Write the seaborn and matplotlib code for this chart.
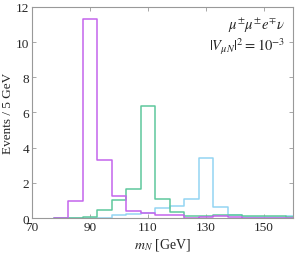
import numpy as np
import pandas as pd
import matplotlib
matplotlib.use("Agg")
import matplotlib.pyplot as plt
import seaborn as sns

bin_centers = [80, 85, 90, 95, 100, 105, 110, 115, 120, 125, 130, 135, 140, 145, 150, 155, 160]
purple_vals = [0.0, 0.97, 11.33, 3.31, 1.24, 0.40, 0.30, 0.18, 0.15, 0.03, 0.08, 0.12, 0.05, 0.03, 0.03, 0.03, 0.03]
green_vals = [0.0, 0.02, 0.08, 0.45, 1.03, 1.65, 6.35, 1.10, 0.35, 0.12, 0.10, 0.15, 0.18, 0.12, 0.10, 0.10, 0.08]
cyan_vals = [0.0, 0.0, 0.02, 0.02, 0.18, 0.25, 0.30, 0.55, 0.70, 1.10, 3.40, 0.65, 0.18, 0.08, 0.08, 0.08, 0.10]
series_names = ["m90", "m110", "m130"]
colors = ["#c464ec", "#5ec89c", "#93d5f2"]
x_ticks = [70, 90, 110, 130, 150]
y_ticks = [0, 2, 4, 6, 8, 10, 12]

rows = []
for name, vals in zip(series_names, [purple_vals, green_vals, cyan_vals]):
    for c, v in zip(bin_centers, vals):
        rows.append({"x": float(c), "w": float(v), "s": name})
df = pd.DataFrame(rows)

sns.set_style("ticks")
plt.rcParams["font.family"] = ["Liberation Serif", "DejaVu Serif"]
plt.rcParams["mathtext.fontset"] = "stix"

fig = plt.figure(figsize=(3.07, 2.55), dpi=100)
ax = fig.add_axes([0.104, 0.141, 0.850, 0.828])

edges = [77.5 + 5 * i for i in range(18)]
sns.histplot(data=df, x="x", weights="w", hue="s", bins=edges, element="step",
             fill=False, palette=dict(zip(series_names, colors)), linewidth=1.1,
             legend=False, ax=ax)

ax.set_xlim(70, 160)
ax.set_ylim(0, 12)
ax.set_xticks(x_ticks)
ax.set_yticks(y_ticks)
ax.tick_params(direction="in", top=True, right=True, length=3, width=0.6,
               color="#999999", labelsize=9.5, pad=2)
for sp in ax.spines.values():
    sp.set_color("#999999")
    sp.set_linewidth(0.8)

ax.set_xlabel(r"$m_N$ [GeV]", fontsize=10, labelpad=2)
ax.set_ylabel("Events / 5 GeV", fontsize=9.5)
ax.yaxis.set_label_coords(-0.068, 0.5)

ax.text(0.97, 0.96, r"$\mu^{\pm}\mu^{\pm}e^{\mp}\nu$", transform=ax.transAxes,
        ha="right", va="top", fontsize=10.5)
ax.text(0.97, 0.865, r"$|V_{\mu N}|^2 = 10^{-3}$", transform=ax.transAxes,
        ha="right", va="top", fontsize=10.5)

fig.savefig("out.png", dpi=100)
